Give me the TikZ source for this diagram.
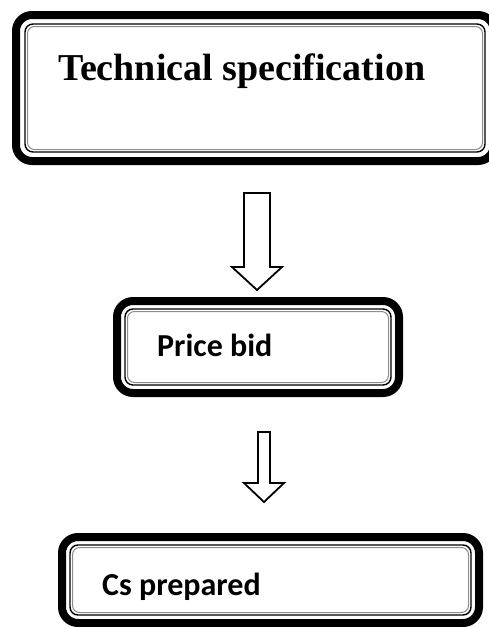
\documentclass[tikz,border=0pt]{standalone}
\usepackage{fontspec}
\usepackage{tikz}
\usetikzlibrary{positioning,calc}
\newfontfamily\specfont{Liberation Serif}
\newfontfamily\stepfont{Carlito}

\begin{document}
\begin{tikzpicture}[x=1pt,y=-1pt,
  frame/.style={draw=black,line width=8pt,rounded corners=16pt,outer sep=0pt,
                inner sep=0pt},
  inframe/.style={draw=black,line width=1.4pt,rounded corners=8pt},
  haze/.style={draw=black!45,line width=1pt,rounded corners=7pt},
  serif/.style={font=\specfont\bfseries\fontsize{38}{40}\selectfont,inner sep=0pt,
                anchor=base west},
  sans/.style={font=\stepfont\bfseries\fontsize{32}{34}\selectfont,inner sep=0pt,
               anchor=base west},
  blk/.style={draw=black,line width=1.8pt,fill=white,line join=miter}
]
\useasboundingbox (0,0) rectangle (489,627);
\fill[white] (0,0) rectangle (489,627);

% boxes
\node[frame,minimum width=478pt,minimum height=146pt] (spec) at (255,88) {};
\node[frame,minimum width=282pt,minimum height=92pt]  (bid)  at (258,347) {};
\node[frame,minimum width=417pt,minimum height=86pt]  (cs)   at (270.5,580) {};
\foreach \n/\d in {spec/9,bid/8,cs/8}{
  \draw[inframe] ([shift={(\d pt,-\d pt)}]\n.north west) rectangle
                 ([shift={(-\d pt,\d pt)}]\n.south east);
  \draw[haze] ([shift={(\d pt+2.5pt,-\d pt-2.5pt)}]\n.north west) rectangle
              ([shift={(-\d pt-2.5pt,\d pt+2.5pt)}]\n.south east);
}

% texts
\node[serif] (specT) at (58,80) {Technical specification};
\node[sans]  (bidT)  at (157,356) {Price bid};
\node[sans]  (csT)   at (102,595) {Cs prepared};

% block arrows
\draw[blk] (244,193) -- (270,193) -- (270,267) -- (282,267) -- (257,290)
           -- (232,267) -- (244,267) -- cycle;
\draw[blk] (258,432) -- (270,432) -- (270,483) -- (284,483) -- (264,502)
           -- (244,483) -- (258,483) -- cycle;
\end{tikzpicture}
\end{document}
